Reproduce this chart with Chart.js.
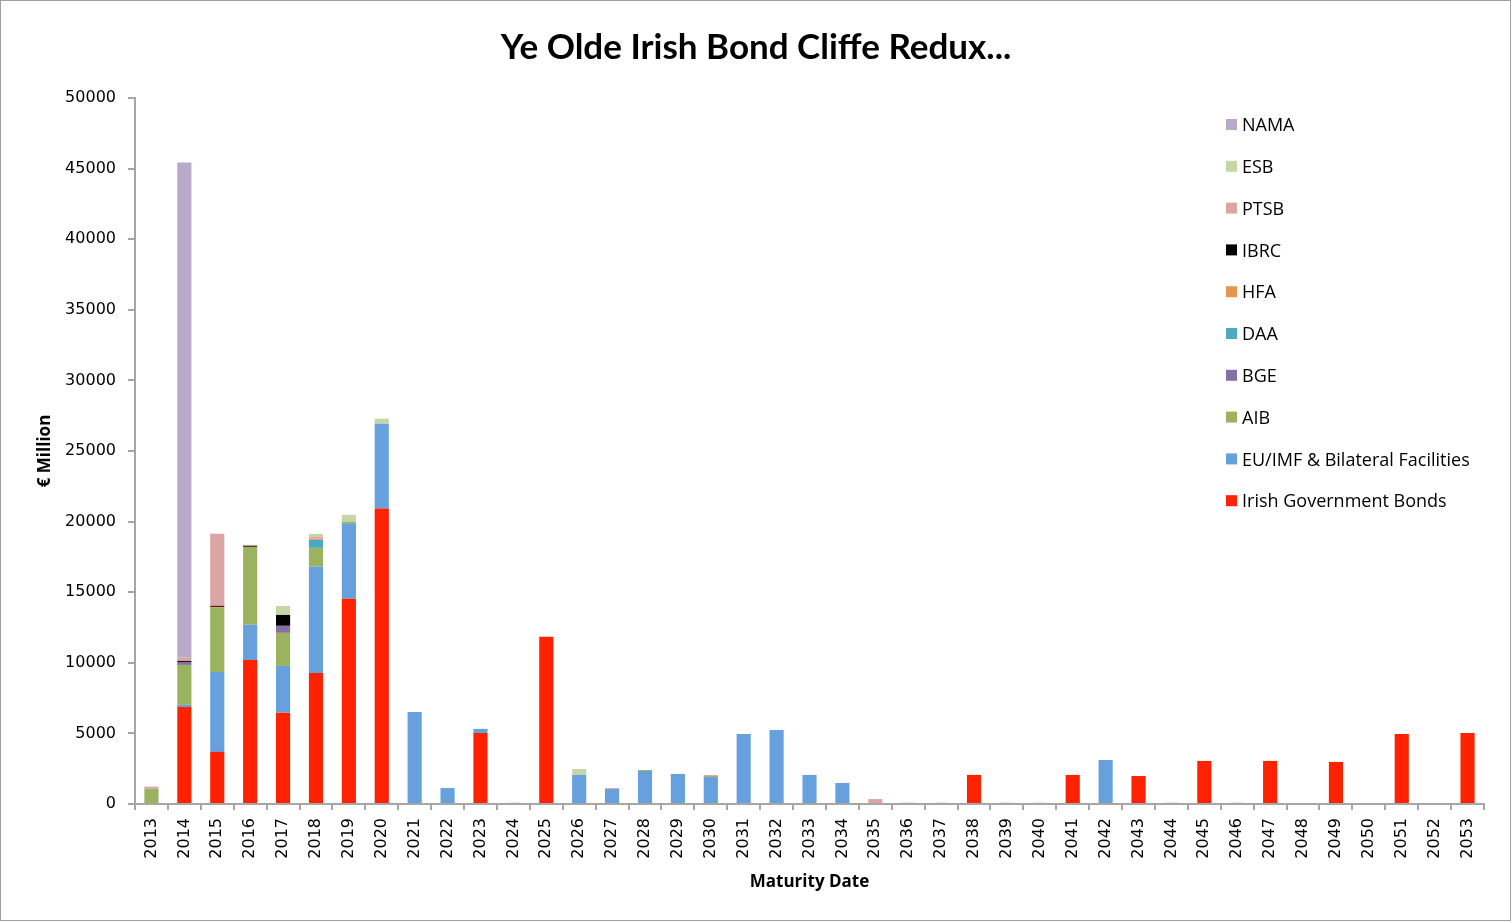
<!DOCTYPE html>
<html>
<head>
<meta charset="utf-8">
<title>Ye Olde Irish Bond Cliffe Redux...</title>
<script src="https://cdn.jsdelivr.net/npm/chart.js@4"></script>
<style>
  html, body { margin: 0; padding: 0; background: #fff; }
  canvas { display: block; }
</style>
</head>
<body>
<canvas id="cliffe" width="1512" height="923"></canvas>
<script>
// maturity years, 2013 .. 2053
const years = ['2013', '2014', '2015', '2016', '2017', '2018', '2019', '2020', '2021', '2022',
  '2023', '2024', '2025', '2026', '2027', '2028', '2029', '2030', '2031', '2032',
  '2033', '2034', '2035', '2036', '2037', '2038', '2039', '2040', '2041', '2042',
  '2043', '2044', '2045', '2046', '2047', '2048', '2049', '2050', '2051', '2052', '2053'];

// € million per year
const irishGovBonds = [0, 6870, 3690, 10200, 6470, 9280, 14530, 20930, 0, 0,
  5030, 80, 11840, 0, 0, 0, 0, 0, 0, 0,
  0, 0, 70, 80, 80, 2060, 80, 80, 2060, 0,
  1980, 80, 3050, 80, 3050, 0, 2980, 0, 4960, 0, 5030];
const euImf = [0, 150, 5660, 2490, 3310, 7540, 5310, 6000, 6520, 1130,
  290, 0, 0, 2060, 1060, 2340, 2130, 1910, 4960, 5240,
  2060, 1490, 0, 0, 0, 0, 0, 0, 0, 3120,
  0, 0, 0, 0, 0, 0, 0, 0, 0, 0, 0];
const aib = [1080, 2830, 4540, 5520, 2340, 1320, 150, 0, 0, 0,
  0, 0, 0, 0, 0, 70, 0, 70, 0, 0,
  0, 0, 0, 0, 0, 0, 0, 0, 0, 0,
  0, 0, 0, 0, 0, 0, 0, 0, 0, 0, 0];
const bge = [0, 210, 0, 0, 500, 0, 0, 0, 0, 0,
  0, 0, 0, 0, 0, 0, 0, 0, 0, 0,
  0, 0, 0, 0, 0, 0, 0, 0, 0, 0,
  0, 0, 0, 0, 0, 0, 0, 0, 0, 0, 0];
const daa = [0, 0, 0, 0, 0, 570, 0, 0, 0, 0,
  0, 0, 0, 0, 0, 0, 0, 0, 0, 0,
  0, 0, 0, 0, 0, 0, 0, 0, 0, 0,
  0, 0, 0, 0, 0, 0, 0, 0, 0, 0, 0];
const hfa = [0, 0, 70, 0, 0, 90, 0, 0, 0, 0,
  0, 0, 0, 0, 0, 0, 0, 0, 0, 0,
  0, 0, 0, 0, 0, 0, 0, 0, 0, 0,
  0, 0, 0, 0, 0, 0, 0, 0, 0, 0, 0];
const ibrc = [0, 70, 70, 70, 770, 0, 0, 0, 0, 0,
  0, 0, 0, 0, 0, 0, 0, 0, 0, 0,
  0, 0, 0, 0, 0, 0, 0, 0, 0, 0,
  0, 0, 0, 0, 0, 0, 0, 0, 0, 0, 0];
const ptsb = [150, 220, 5110, 70, 0, 140, 0, 0, 0, 0,
  0, 0, 0, 0, 70, 0, 0, 70, 0, 0,
  0, 0, 280, 0, 0, 0, 0, 0, 0, 0,
  0, 0, 0, 0, 0, 0, 0, 0, 0, 0, 0];
const esb = [0, 0, 0, 0, 640, 190, 490, 360, 0, 0,
  0, 0, 0, 420, 0, 0, 0, 0, 0, 0,
  0, 0, 0, 0, 0, 0, 0, 0, 0, 0,
  0, 0, 0, 0, 0, 0, 0, 0, 0, 0, 0];
const nama = [0, 35080, 0, 0, 0, 0, 0, 0, 0, 0,
  0, 0, 0, 0, 0, 0, 0, 0, 0, 0,
  0, 0, 0, 0, 0, 0, 0, 0, 0, 0,
  0, 0, 0, 0, 0, 0, 0, 0, 0, 0, 0];

const yTicks = [0, 5000, 10000, 15000, 20000, 25000, 30000, 35000, 40000, 45000, 50000];

const axisGrey = '#A6A6A6';

// legend sits inside the plot, top right, one entry per row (top of stack first)
const floatingLegend = {
  id: 'floatingLegend',
  afterDraw(chart) {
    const { ctx } = chart;
    const sets = chart.data.datasets.slice().reverse();
    ctx.save();
    ctx.font = '18px "Open Sans"';
    ctx.textBaseline = 'middle';
    ctx.textAlign = 'left';
    sets.forEach((ds, i) => {
      const y = 125 + i * 41.8;
      ctx.fillStyle = ds.backgroundColor;
      ctx.fillRect(1226, y - 6, 11, 11);
      ctx.fillStyle = '#000';
      ctx.fillText(ds.label, 1242, y + 1);
    });
    ctx.restore();
  }
};

const frame = {
  id: 'frame',
  afterDraw(chart) {
    const { ctx } = chart;
    ctx.save();
    ctx.strokeStyle = '#A0A0A0';
    ctx.lineWidth = 1;
    ctx.strokeRect(0.5, 0.5, 1510, 920);
    ctx.restore();
  }
};

const series = [
  { label: 'Irish Government Bonds', data: irishGovBonds, backgroundColor: '#FF2200' },
  { label: 'EU/IMF & Bilateral Facilities', data: euImf, backgroundColor: '#66A1DE' },
  { label: 'AIB', data: aib, backgroundColor: '#9BB25E' },
  { label: 'BGE', data: bge, backgroundColor: '#8570A6' },
  { label: 'DAA', data: daa, backgroundColor: '#4BA9C1' },
  { label: 'HFA', data: hfa, backgroundColor: '#E8964E' },
  { label: 'IBRC', data: ibrc, backgroundColor: '#000000' },
  { label: 'PTSB', data: ptsb, backgroundColor: '#DBA5A5' },
  { label: 'ESB', data: esb, backgroundColor: '#C6D6A8' },
  { label: 'NAMA', data: nama, backgroundColor: '#B9AACB' }
];

// eslint-disable-next-line no-new
new Chart(document.getElementById('cliffe'), {
  type: 'bar',
  data: {
    labels: years,
    datasets: series.map((s) => ({
      ...s,
      borderWidth: 0,
      categoryPercentage: 1,
      barPercentage: 0.43
    }))
  },
  options: {
    responsive: false,
    animation: false,
    devicePixelRatio: 1,
    layout: { padding: 0 },
    plugins: {
      legend: { display: false },
      tooltip: { enabled: false },
      title: {
        display: true,
        text: 'Ye Olde Irish Bond Cliffe Redux...',
        color: '#000',
        font: { family: 'Lato', size: 35, weight: 'bold', lineHeight: 1.2 },
        padding: { top: 27, bottom: 29 }
      }
    },
    scales: {
      x: {
        stacked: true,
        afterFit(scale) { scale.height = 119; },
        border: { color: axisGrey, width: 2 },
        grid: { offset: true, drawOnChartArea: false, drawTicks: true, tickLength: 6, color: axisGrey, lineWidth: 2 },
        ticks: {
          autoSkip: false,
          minRotation: 90,
          maxRotation: 90,
          padding: 8,
          color: '#000',
          font: { family: 'DejaVu Sans', size: 16 }
        },
        title: {
          display: true,
          text: 'Maturity Date',
          color: '#000',
          font: { family: 'Open Sans', size: 17, weight: 'bold', lineHeight: 1.2 },
          padding: { top: 0, bottom: 31 }
        }
      },
      y: {
        stacked: true,
        min: 0,
        max: 50000,
        afterFit(scale) { scale.width = 135; },
        afterBuildTicks(scale) { scale.ticks = yTicks.map((v) => ({ value: v })); },
        border: { color: axisGrey, width: 2 },
        grid: { drawOnChartArea: false, drawTicks: true, tickLength: 7, color: axisGrey, lineWidth: 2 },
        ticks: {
          padding: 12,
          color: '#000',
          font: { family: 'DejaVu Sans', size: 16 },
          callback: (value) => String(value)
        },
        title: {
          display: true,
          text: '€ Million',
          color: '#000',
          font: { family: 'Open Sans', size: 17, weight: 'bold', lineHeight: 1.2 },
          padding: { top: 35, bottom: 0 }
        }
      },
      // empty right-hand gutter so the title stays centred on the whole page
      gutter: {
        position: 'right',
        display: true,
        afterFit(scale) { scale.width = 28; },
        grid: { display: false, drawTicks: false },
        border: { display: false },
        ticks: { display: false }
      }
    }
  },
  plugins: [floatingLegend, frame]
});
</script>
</body>
</html>
